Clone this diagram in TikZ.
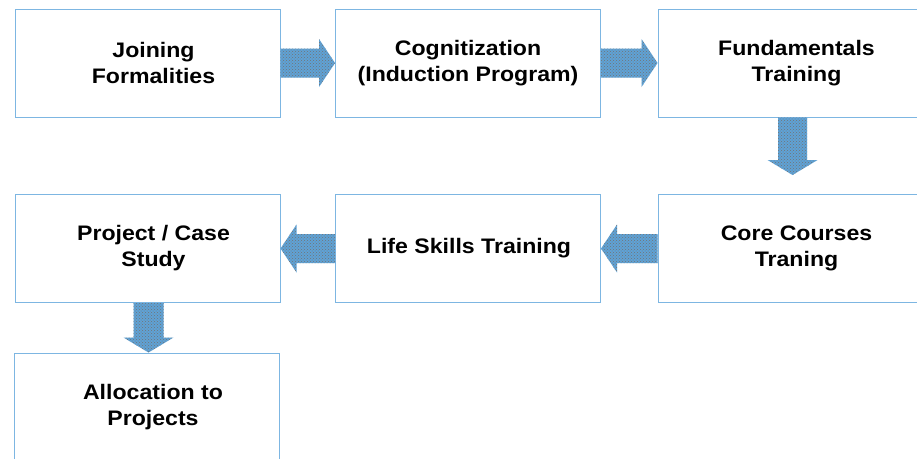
\documentclass[tikz,border=0pt]{standalone}
\usepackage{fontspec}
\setmainfont{Liberation Sans}[FakeStretch=1.1]
\usetikzlibrary{calc,patterns}
\definecolor{boxline}{RGB}{125,182,226}
\definecolor{arrowblue}{RGB}{95,162,214}
\tikzset{
  stepbox/.style={draw=boxline, line width=1pt, fill=white, rectangle,
    minimum width=265pt, minimum height=108pt, inner sep=0pt},
  widebox/.style={stepbox, minimum width=277pt},
  steptext/.style={align=center, inner sep=0pt,
    font=\bfseries\fontsize{21pt}{26pt}\selectfont},
  fatarrow/.style={preaction={fill=arrowblue}, pattern=crosshatch dots, pattern color=black!55}
}
\begin{document}
\begin{tikzpicture}[x=1pt,y=-1pt]
\useasboundingbox (0,0) rectangle (917,458);
\clip (0,0) rectangle (917,458);
\fill[white] (0,0) rectangle (917,458);
% row 1
\node[stepbox] (join) at (147.5,63) {};
\node[stepbox] (cog) at (468,63) {};
\node[widebox] (fund) at (796.5,63) {};
% row 2
\node[stepbox] (proj) at (147.5,248.5) {};
\node[stepbox] (life) at (468,248.5) {};
\node[widebox] (core) at (796.5,248.5) {};
% row 3
\node[stepbox] (alloc) at (147,407) {};
% texts
\node[steptext] (joint) at ($(join)+(6,0)$) {Joining\\Formalities};
\node[steptext] (cogt) at ($(cog)+(0,0)$) {Cognitization\\(Induction Program)};
\node[steptext] (fundt) at ($(fund)+(0,0)$) {Fundamentals\\Training};
\node[steptext] (projt) at ($(proj)+(6,0)$) {Project / Case\\Study};
\node[steptext] (lifet) at ($(life)+(1,0)$) {Life Skills Training};
\node[steptext] (coret) at ($(core)+(0,0)$) {Core Courses\\Traning};
\node[steptext] (alloct) at ($(alloc)+(6,0)$) {Allocation to\\Projects};
% right arrows
\path[fatarrow] ($(join.east)+(0,-14.5)$) -- ($(cog.west)+(-16,-14.5)$) -- ($(cog.west)+(-16,-24)$) -- (cog.west)
  -- ($(cog.west)+(-16,24)$) -- ($(cog.west)+(-16,14.5)$) -- ($(join.east)+(0,14.5)$) -- cycle;
\path[fatarrow] ($(cog.east)+(0,-14.5)$) -- ($(fund.west)+(-16,-14.5)$) -- ($(fund.west)+(-16,-24)$) -- (fund.west)
  -- ($(fund.west)+(-16,24)$) -- ($(fund.west)+(-16,14.5)$) -- ($(cog.east)+(0,14.5)$) -- cycle;
% left arrows
\path[fatarrow] ($(core.west)+(0,-14.5)$) -- ($(life.east)+(16,-14.5)$) -- ($(life.east)+(16,-24)$) -- (life.east)
  -- ($(life.east)+(16,24)$) -- ($(life.east)+(16,14.5)$) -- ($(core.west)+(0,14.5)$) -- cycle;
\path[fatarrow] ($(life.west)+(0,-14.5)$) -- ($(proj.east)+(16,-14.5)$) -- ($(proj.east)+(16,-24)$) -- (proj.east)
  -- ($(proj.east)+(16,24)$) -- ($(proj.east)+(16,14.5)$) -- ($(life.west)+(0,14.5)$) -- cycle;
% down arrows
\coordinate (fundtip) at (792.5,175);
\coordinate (fundtop) at (fundtip |- fund.south);
\path[fatarrow] ($(fundtop)+(-14.5,0)$) -- ($(fundtip)+(-14.5,-15)$) -- ($(fundtip)+(-25,-15)$) -- (fundtip)
  -- ($(fundtip)+(25,-15)$) -- ($(fundtip)+(14.5,-15)$) -- ($(fundtop)+(14.5,0)$) -- cycle;
\coordinate (alloctip) at (alloc.north -| 148.5,0);
\coordinate (projbot) at (alloctip |- proj.south);
\path[fatarrow] ($(projbot)+(-15,0)$) -- ($(alloctip)+(-15,-15)$) -- ($(alloctip)+(-25,-15)$) -- (alloctip)
  -- ($(alloctip)+(25,-15)$) -- ($(alloctip)+(15,-15)$) -- ($(projbot)+(15,0)$) -- cycle;
\end{tikzpicture}
\end{document}
